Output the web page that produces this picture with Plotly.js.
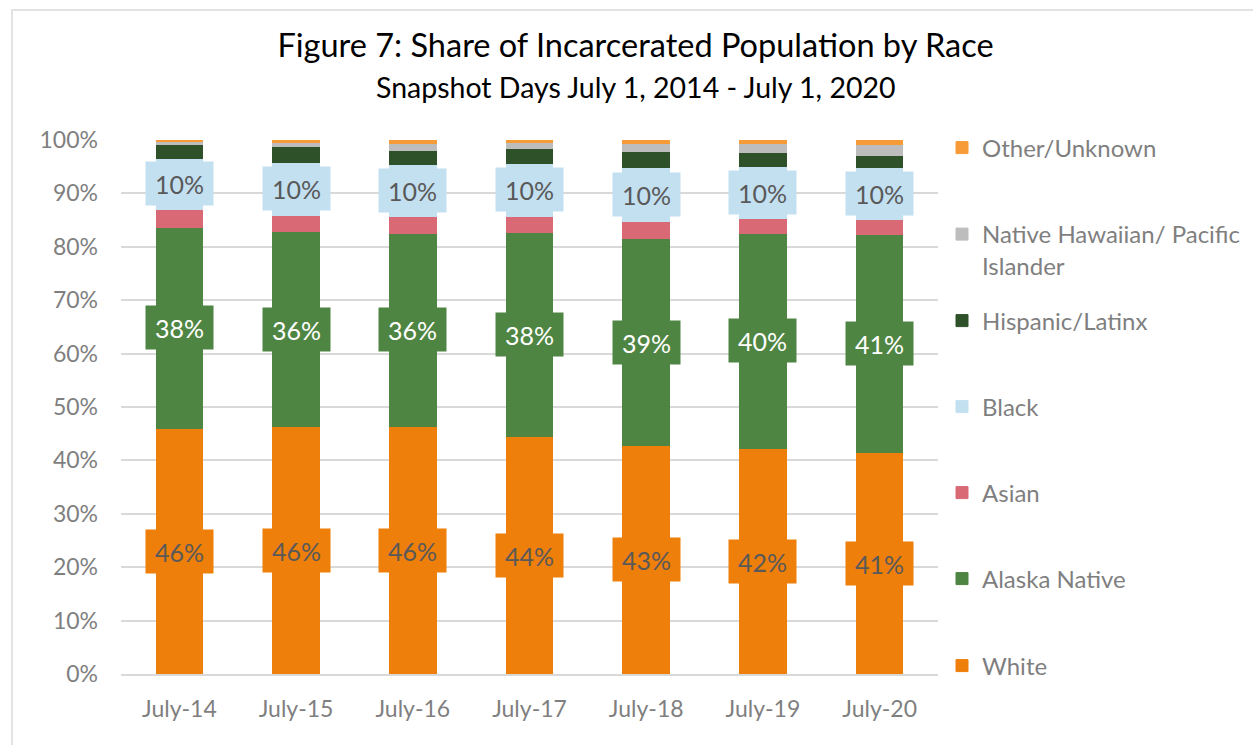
<!DOCTYPE html>
<html>
<head>
<meta charset="utf-8">
<script src="https://cdn.plot.ly/plotly-3.0.1.min.js"></script>
<style>
  html, body { margin: 0; padding: 0; background: #fff; }
  #chart { position: absolute; left: 0; top: 0; width: 1253px; height: 745px; }
  #frame { position: absolute; left: 11px; top: 9px; width: 1250px; height: 740px;
           border-left: 2px solid #e3e3e3; border-top: 2px solid #e3e3e3; pointer-events: none; }
</style>
</head>
<body>
<div id="chart"></div>
<div id="frame"></div>
<script>
// ---- data (percent of incarcerated population) ----
const categories = ["July-14", "July-15", "July-16", "July-17", "July-18", "July-19", "July-20"];
const white        = [45.9, 46.4, 46.4, 44.4, 42.7, 42.3, 41.4];
const alaskaNative = [37.8, 36.4, 36.1, 38.3, 38.8, 40.2, 40.9];
const asian        = [3.3, 3.1, 3.1, 3.0, 3.2, 2.8, 2.8];
const black        = [9.6, 9.9, 9.8, 9.9, 10.2, 9.7, 9.8];
const hispanic     = [2.6, 2.9, 2.7, 2.9, 2.9, 2.6, 2.2];
const nhpi         = [0.6, 0.9, 1.25, 1.1, 1.6, 1.7, 2.1];
const other        = [0.4, 0.5, 0.65, 0.6, 0.6, 0.7, 0.8];
const yTickVals    = [0, 10, 20, 30, 40, 50, 60, 70, 80, 90, 100];
const yTickText    = ["0%", "10%", "20%", "30%", "40%", "50%", "60%", "70%", "80%", "90%", "100%"];

const FONT = "Lato, 'Open Sans', sans-serif";
const series = [
  {name: "White", y: white, color: "#EF7F0B", legend: "legend7", ly: 666},
  {name: "Alaska Native", y: alaskaNative, color: "#4F8542", legend: "legend6", ly: 579},
  {name: "Asian", y: asian, color: "#D96A75", legend: "legend5", ly: 493},
  {name: "Black", y: black, color: "#C3E0F1", legend: "legend4", ly: 407},
  {name: "Hispanic/Latinx", y: hispanic, color: "#2F5129", legend: "legend3", ly: 321},
  {name: "Native Hawaiian/ Pacific<br>Islander", y: nhpi, color: "#BDBDBD", legend: "legend2", ly: 250},
  {name: "Other/Unknown", y: other, color: "#F79B38", legend: "legend", ly: 148}
];

const traces = series.map(s => ({
  type: "bar", x: categories, y: s.y, name: s.name, legend: s.legend,
  marker: {color: s.color, line: {color: s.color, width: 1}},
  hoverinfo: "x+y+name"
}));

// plot-area geometry (px)
const L = 121, R = 938, T = 140, B = 674;
const W = R - L, H = B - T;
const legendX = (942 - L) / W;

const layout = {
  width: 1253, height: 745,
  margin: {l: L, r: 1253 - R, t: T, b: 745 - B, pad: 0, autoexpand: false},
  paper_bgcolor: "#ffffff", plot_bgcolor: "#ffffff",
  barmode: "stack", bargap: 0.6,
  font: {family: FONT, color: "#7f7f7f", size: 22},
  title: {
    text: "Figure 7: Share of Incarcerated Population by Race",
    font: {family: FONT, size: 32.5, color: "#000000"},
    xref: "container", x: 635.5 / 1253, xanchor: "center",
    yref: "container", y: 1 - 46 / 745, yanchor: "middle"
  },
  xaxis: {
    type: "category", showgrid: false, zeroline: false,
    showline: true, linecolor: "#d9d9d9", linewidth: 2,
    ticks: "", ticklabelstandoff: 13,
    tickfont: {family: FONT, size: 23, color: "#7f7f7f"}
  },
  yaxis: {
    range: [0, 100], tickvals: yTickVals, ticktext: yTickText,
    showgrid: true, gridcolor: "#d9d9d9", gridwidth: 2, zeroline: false,
    showline: false, ticks: "", ticklabelstandoff: 22,
    tickfont: {family: FONT, size: 23, color: "#7f7f7f"}
  },
  showlegend: true,
  annotations: [
    {text: "Snapshot Days July 1, 2014 - July 1, 2020", xref: "paper", yref: "paper",
     x: (635.5 - L) / W, y: (B - 87) / H, xanchor: "center", yanchor: "middle",
     showarrow: false, font: {family: FONT, size: 28.5, color: "#000000"}}
  ]
};

// one legend box per entry so every entry sits at its own height
series.forEach(s => {
  layout[s.legend] = {
    x: legendX, xanchor: "left", xref: "paper",
    y: (B - s.ly) / H, yanchor: "middle", yref: "paper",
    bgcolor: "rgba(0,0,0,0)", borderwidth: 0,
    font: {family: FONT, size: 24, color: "#7f7f7f"},
    valign: "top", itemclick: false, itemdoubleclick: false
  };
});

// value labels with coloured boxes (White, Alaska Native, Black)
categories.forEach((c, i) => {
  const base1 = white[i];
  const base2 = base1 + alaskaNative[i] + asian[i];
  const labels = [
    {y: white[i] / 2, v: white[i], bg: "#EF7F0B", fc: "#595959"},
    {y: base1 + alaskaNative[i] / 2, v: alaskaNative[i], bg: "#4F8542", fc: "#ffffff"},
    {y: base2 + black[i] / 2, v: black[i], bg: "#C3E0F1", fc: "#595959"}
  ];
  labels.forEach(l => {
    layout.annotations.push({
      x: c, y: l.y, xref: "x", yref: "y", text: Math.round(l.v) + "%",
      showarrow: false, bgcolor: l.bg, width: 67, height: 43, borderpad: 0,
      align: "center", valign: "middle",
      font: {family: FONT, size: 25, color: l.fc}
    });
  });
});

Plotly.newPlot("chart", traces, layout, {displayModeBar: false, staticPlot: true});
</script>
</body>
</html>
